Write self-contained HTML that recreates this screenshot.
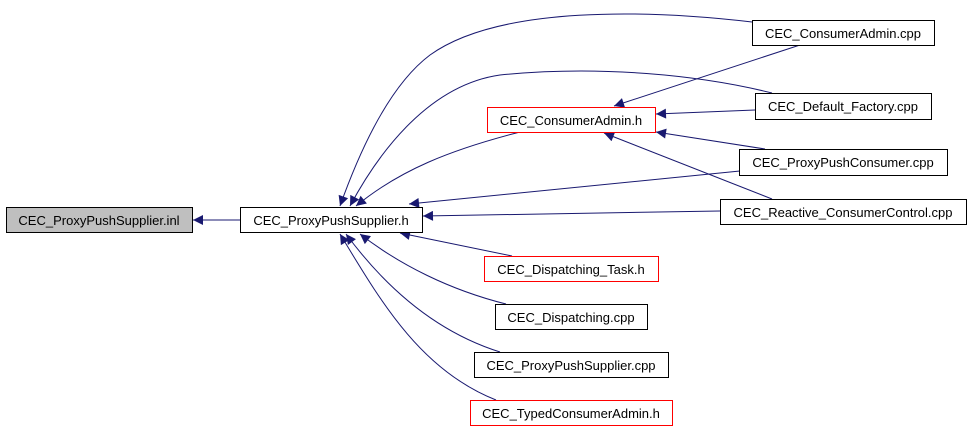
<!DOCTYPE html>
<html><head><meta charset="utf-8"><style>
html,body{margin:0;padding:0;background:#fff;width:971px;height:429px;overflow:hidden}
svg{display:block}
text{font-family:"Liberation Sans",sans-serif;font-size:13px;fill:#000}
</style></head><body>
<svg width="971" height="429" viewBox="0 0 971 429" xmlns="http://www.w3.org/2000/svg">
<defs>
<marker id="a" viewBox="0 0 10 10" refX="10" refY="5" markerWidth="14" markerHeight="10" markerUnits="userSpaceOnUse" orient="auto">
<path d="M0,0 L10,5 L0,10 z" fill="#191970"/>
</marker>
</defs>
<g fill="none" stroke="#191970" stroke-width="1" marker-end="url(#a)">
<path d="M240,220 L193,220"/>
<path d="M752,22 C650,10 500,5 430,55 C390,85 360,150 340,206"/>
<path d="M772,93 C700,75 600,65 500,75 C430,85 380,150 350,206"/>
<path d="M520,132 C450,150 400,170 356,206"/>
<path d="M740,171 L409,204"/>
<path d="M720,211 L423,216"/>
<path d="M512,256 L400,233"/>
<path d="M506,304 C450,290 400,265 360,234"/>
<path d="M500,352 C430,330 380,280 346,234"/>
<path d="M496,400 C420,370 380,300 340,234"/>
<path d="M800,45 L614,106"/>
<path d="M755,110 L656,114"/>
<path d="M765,149 L656,132"/>
<path d="M772,199 L604,133"/>
</g>
<g stroke-width="1">
<rect x="6.5" y="207.5" width="186" height="25" fill="#bfbfbf" stroke="#000"/>
<rect x="240.5" y="207.5" width="182" height="25" fill="#fff" stroke="#000"/>
<rect x="487.5" y="107.5" width="168" height="25" fill="#fff" stroke="#f00"/>
<rect x="752.5" y="20.5" width="182" height="25" fill="#fff" stroke="#000"/>
<rect x="755.5" y="93.5" width="176" height="26" fill="#fff" stroke="#000"/>
<rect x="739.5" y="149.5" width="208" height="26" fill="#fff" stroke="#000"/>
<rect x="720.5" y="199.5" width="246" height="25" fill="#fff" stroke="#000"/>
<rect x="484.5" y="256.5" width="174" height="25" fill="#fff" stroke="#f00"/>
<rect x="495.5" y="304.5" width="152" height="25" fill="#fff" stroke="#000"/>
<rect x="474.5" y="352.5" width="194" height="25" fill="#fff" stroke="#000"/>
<rect x="470.5" y="400.5" width="202" height="25" fill="#fff" stroke="#f00"/>
</g>
<g text-anchor="middle">
<text x="99" y="225">CEC_ProxyPushSupplier.inl</text>
<text x="331" y="225">CEC_ProxyPushSupplier.h</text>
<text x="571" y="125">CEC_ConsumerAdmin.h</text>
<text x="843" y="38">CEC_ConsumerAdmin.cpp</text>
<text x="843" y="111">CEC_Default_Factory.cpp</text>
<text x="843" y="167">CEC_ProxyPushConsumer.cpp</text>
<text x="843" y="217">CEC_Reactive_ConsumerControl.cpp</text>
<text x="571" y="274">CEC_Dispatching_Task.h</text>
<text x="571" y="322">CEC_Dispatching.cpp</text>
<text x="571" y="370">CEC_ProxyPushSupplier.cpp</text>
<text x="571" y="418">CEC_TypedConsumerAdmin.h</text>
</g>
</svg>
</body></html>
